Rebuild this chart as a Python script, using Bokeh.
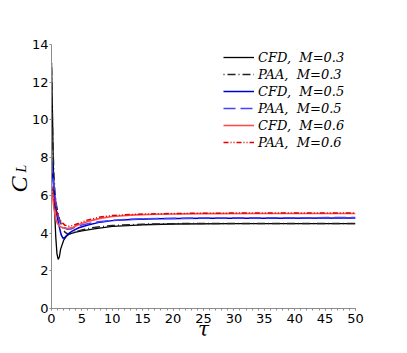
import math
from bokeh.plotting import figure
from bokeh.layouts import row
from bokeh.models import Legend, LegendItem, Range1d, FixedTicker
from bokeh.embed import file_html
from bokeh.resources import INLINE

# ---- data ----
t_cfd03 = [0, 0.15, 0.3, 0.5, 0.7, 0.9, 1.1, 1.3, 1.5, 2.0, 2.5, 3.0, 4.0, 5.0, 7.0, 10, 15, 20, 30, 40, 50]
cl_cfd03 = [13.0, 10.5, 7.5, 5.3, 3.8, 2.9, 2.6, 2.75, 3.15, 3.62, 3.85, 3.96, 4.05, 4.12, 4.22, 4.35, 4.44, 4.48, 4.5, 4.5, 4.5]

t_paa03 = [0, 0.1, 0.2, 0.4, 0.6, 0.8, 1.0, 1.3, 1.7, 2.2, 2.7, 3.2, 4.0, 5.0, 7.0, 10, 15, 20, 30, 50]
cl_paa03 = [13.0, 11.0, 9.0, 7.0, 6.0, 5.5, 5.15, 4.75, 4.35, 4.05, 3.95, 3.98, 4.08, 4.17, 4.3, 4.4, 4.47, 4.5, 4.51, 4.51]

t_cfd05 = [0, 0.2, 0.4, 0.7, 1.0, 1.3, 1.6, 1.9, 2.3, 2.8, 3.4, 4.5, 6, 8, 10, 13, 17, 25, 35, 50]
cl_cfd05 = [7.8, 7.0, 6.3, 5.35, 4.75, 4.3, 3.9, 3.72, 3.8, 3.97, 4.1, 4.28, 4.43, 4.58, 4.66, 4.72, 4.76, 4.78, 4.79, 4.8]

t_paa05 = [0, 0.3, 0.6, 0.9, 1.2, 1.5, 2.0, 2.6, 3.2, 4.0, 5.0, 7.0, 10, 15, 25, 50]
cl_paa05 = [7.8, 6.8, 5.9, 5.2, 4.75, 4.5, 4.3, 4.2, 4.22, 4.32, 4.43, 4.57, 4.68, 4.76, 4.8, 4.82]

t_cfd06 = [0, 0.2, 0.4, 0.7, 1.0, 1.4, 2.0, 2.8, 3.5, 4.5, 6, 8, 10, 13, 17, 25, 35, 50]
cl_cfd06 = [6.5, 5.9, 5.3, 4.75, 4.5, 4.35, 4.27, 4.25, 4.3, 4.45, 4.62, 4.78, 4.88, 4.95, 5.0, 5.03, 5.04, 5.04]

t_paa06 = [0, 0.3, 0.6, 0.9, 1.2, 1.6, 2.2, 2.9, 3.5, 4.5, 6, 8, 10, 14, 20, 30, 50]
cl_paa06 = [6.5, 6.0, 5.5, 5.1, 4.8, 4.6, 4.42, 4.36, 4.4, 4.52, 4.7, 4.85, 4.93, 5.0, 5.04, 5.06, 5.06]

labels = ["CFD,  M=0.3", "PAA,  M=0.3", "CFD,  M=0.5", "PAA,  M=0.5", "CFD,  M=0.6", "PAA,  M=0.6"]
x_ticks = [0, 5, 10, 15, 20, 25, 30, 35, 40, 45, 50]
y_ticks = [0, 2, 4, 6, 8, 10, 12, 14]

y_range = Range1d(0, 14)

# ---- main plot ----
p = figure(width=377, height=345, output_backend="svg", toolbar_location=None,
           x_range=Range1d(0, 50), y_range=y_range,
           min_border_left=22, min_border_right=50, min_border_top=44, min_border_bottom=37)
p.outline_line_color = None
p.grid.visible = False
p.background_fill_color = "white"
p.border_fill_color = "white"

for ax in (p.xaxis[0], p.yaxis[0]):
    ax.axis_line_color = "#8c8c8c"
    ax.major_tick_line_color = "#8c8c8c"
    ax.minor_tick_line_color = "#8c8c8c"
    ax.major_label_text_font = "DejaVu Sans"
    ax.major_label_text_font_size = "13px"
    ax.major_label_text_color = "black"
    ax.major_tick_in = 0
    ax.major_tick_out = 2
    ax.minor_tick_in = 0
p.xaxis[0].ticker = FixedTicker(ticks=x_ticks, minor_ticks=list(range(0, 51)))
p.xaxis[0].minor_tick_out = 2
p.xaxis[0].major_label_standoff = 3
p.xaxis[0].axis_label = "τ"
p.xaxis[0].axis_label_text_font = "DejaVu Serif"
p.xaxis[0].axis_label_text_font_style = "italic"
p.xaxis[0].axis_label_text_font_size = "20px"
p.xaxis[0].axis_label_text_color = "black"
p.xaxis[0].axis_label_standoff = -9
p.yaxis[0].ticker = FixedTicker(ticks=y_ticks)
p.yaxis[0].minor_tick_out = 0
p.yaxis[0].major_label_standoff = 1

r1 = p.line(t_cfd03, cl_cfd03, line_color="black", line_width=1.3)
r2 = p.line(t_paa03, cl_paa03, line_color="#222222", line_width=1.5, line_dash="1 3 8 3")
r3 = p.line(t_cfd05, cl_cfd05, line_color="#0000cc", line_width=1.5)
r4 = p.line(t_paa05, cl_paa05, line_color="#4444ff", line_width=1.6, line_dash="12 5")
r5 = p.line(t_cfd06, cl_cfd06, line_color="#ff4d4d", line_width=1.6)
r6 = p.line(t_paa06, cl_paa06, line_color="#e00000", line_width=1.5, line_dash="5 2 1 2 1 2")

items = [LegendItem(label=lab, renderers=[r]) for lab, r in zip(labels, [r1, r2, r3, r4, r5, r6])]
legend = Legend(items=items, location=(172, 158), padding=0, margin=0, spacing=1,
                glyph_width=31, glyph_height=16, label_height=16, label_standoff=4,
                label_text_font="DejaVu Serif", label_text_font_style="italic",
                label_text_font_size="13px", label_text_color="black",
                border_line_alpha=0, background_fill_alpha=0)
p.add_layout(legend)

# ---- narrow strip holding the y-axis title C_L (shares the y range) ----
q = figure(width=28, height=345, output_backend="svg", toolbar_location=None,
           x_range=Range1d(0, 28), y_range=y_range,
           x_axis_location=None, y_axis_location=None,
           min_border_left=0, min_border_right=0, min_border_top=44, min_border_bottom=37)
q.outline_line_color = None
q.grid.visible = False
q.background_fill_color = "white"
q.border_fill_color = "white"
q.text(x=[18.6], y=[6.58], text=["C"], angle=math.pi / 2, text_align="center",
       text_baseline="middle", text_font="DejaVu Serif", text_font_style="italic",
       text_font_size="24px", text_color="black")
q.text(x=[21.3], y=[7.42], text=["L"], angle=math.pi / 2, text_align="center",
       text_baseline="middle", text_font="DejaVu Serif", text_font_style="italic",
       text_font_size="14px", text_color="black")

layout = row(q, p)
open("out.html", "w").write(file_html(layout, INLINE))
